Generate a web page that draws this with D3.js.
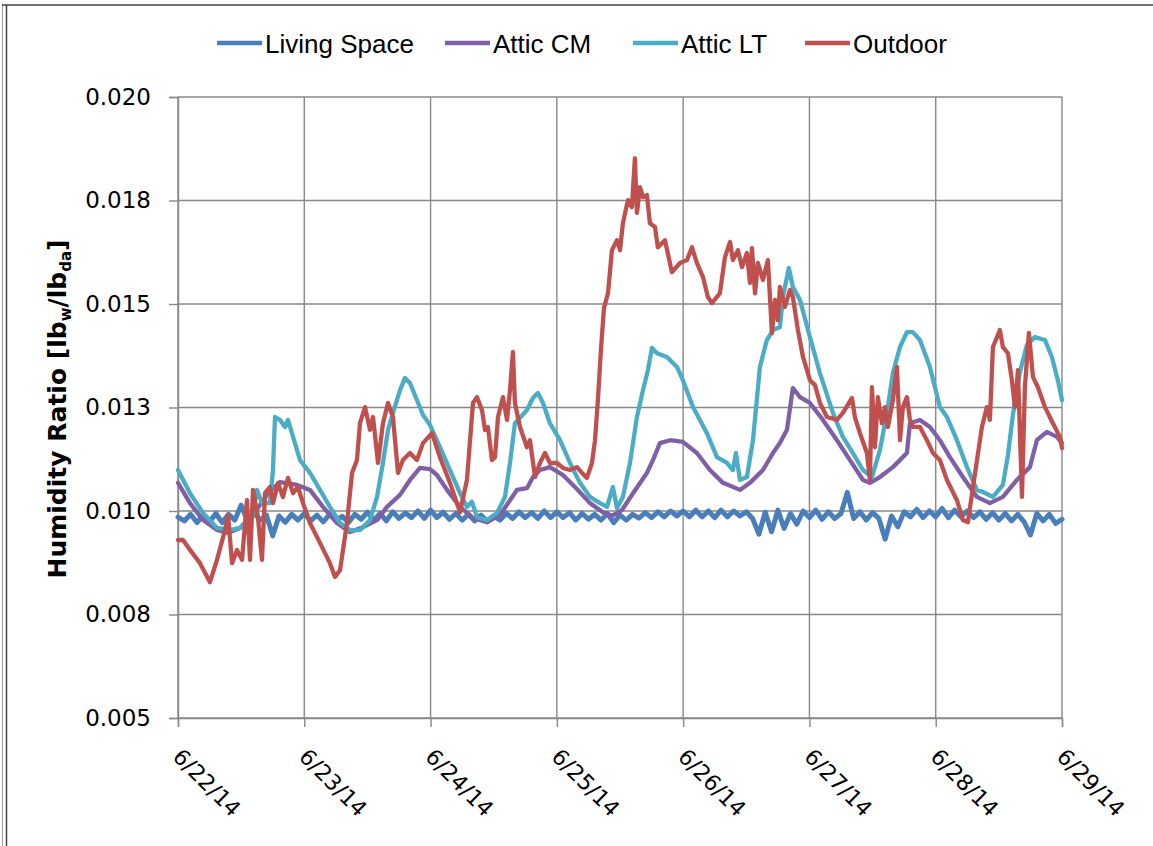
<!DOCTYPE html>
<html><head><meta charset="utf-8">
<script src="https://cdn.jsdelivr.net/npm/d3@7"></script>
<style>body{margin:0;background:#fff}svg{display:block}</style>
</head><body>
<svg id="chart" width="1153" height="846"></svg>
<script>
// ---------- DATA ----------
const seriesNames = ["Living Space", "Attic CM", "Attic LT", "Outdoor"];
const dateLabels = ["6/22/14","6/23/14","6/24/14","6/25/14","6/26/14","6/27/14","6/28/14","6/29/14"];
const yTickValues = [0.005, 0.0075, 0.010, 0.0125, 0.015, 0.0175, 0.020];
const yTickLabels = ["0.005","0.008","0.010","0.013","0.015","0.018","0.020"];

// Living Space: sampled every 0.05 day starting 6/22
const livingStepDays = 0.05;
const livingValues = [
0.00985,0.00976,0.00992,0.00972,0.00990,0.00974,0.00994,0.00972,0.00992,0.00978,
0.01014,0.00976,0.00997,0.00978,0.00990,0.00940,0.00988,0.00973,0.00992,0.00978,
0.00994,0.00976,0.00990,0.00974,0.00992,0.00978,0.00987,0.00972,0.00992,0.00980,
0.00997,0.00978,0.00994,0.00976,0.00998,0.00982,0.00995,0.00984,0.01000,0.00982,
0.01002,0.00984,0.00997,0.00980,0.00994,0.00978,0.00992,0.00976,0.00990,0.00974,
0.00988,0.00978,0.00994,0.00982,0.00998,0.00984,0.00996,0.00982,0.01000,0.00984,
0.00998,0.00984,0.00996,0.00978,0.00994,0.00980,0.00992,0.00978,0.00994,0.00972,
0.00990,0.00978,0.00992,0.00983,0.00996,0.00984,0.00998,0.00986,0.01000,0.00988,
0.01000,0.00986,0.01002,0.00986,0.01000,0.00984,0.01002,0.00986,0.01000,0.00988,
0.00998,0.00982,0.00944,0.00997,0.00950,0.01002,0.00958,0.00994,0.00968,0.01000,
0.00984,0.01002,0.00980,0.00998,0.00982,0.00994,0.01045,0.00982,0.00998,0.00978,
0.00996,0.00982,0.00932,0.00988,0.00962,0.00998,0.00986,0.01004,0.00984,0.01000,
0.00986,0.01006,0.00984,0.01002,0.00986,0.01000,0.00984,0.00998,0.00980,0.00996,
0.00978,0.00994,0.00976,0.00992,0.00974,0.00942,0.00994,0.00976,0.00992,0.00970,
0.00980
];

// [day offset from 6/22/14, humidity ratio]
const atticCM = [
[0,0.01068],[0.095,0.01019],[0.198,0.00978],[0.309,0.00954],[0.396,0.00947],[0.491,0.00959],
[0.610,0.00997],[0.713,0.01043],[0.808,0.01070],[0.942,0.01063],[1.045,0.01051],[1.148,0.01010],
[1.259,0.00971],[1.362,0.00949],[1.465,0.00961],[1.576,0.00978],[1.655,0.01010],[1.758,0.01039],
[1.837,0.01075],[1.916,0.01104],[1.995,0.01101],[2.051,0.01087],[2.130,0.01051],[2.233,0.01010],
[2.336,0.00983],[2.447,0.00973],[2.549,0.00990],[2.629,0.01026],[2.684,0.01051],[2.763,0.01055],
[2.811,0.01082],[2.866,0.01099],[2.945,0.01106],[3.048,0.01087],[3.159,0.01053],[3.262,0.01019],
[3.365,0.00997],[3.436,0.00988],[3.515,0.01002],[3.603,0.01043],[3.713,0.01092],[3.761,0.01123],
[3.816,0.01164],[3.896,0.01171],[3.998,0.01167],[4.109,0.01140],[4.212,0.01099],[4.315,0.01068],
[4.450,0.01051],[4.529,0.01068],[4.632,0.01099],[4.711,0.01140],[4.766,0.01164],[4.822,0.01196],
[4.869,0.01297],[4.925,0.01275],[5.004,0.01261],[5.107,0.01220],[5.218,0.01171],[5.321,0.01123],
[5.424,0.01075],[5.479,0.01068],[5.558,0.01082],[5.661,0.01106],[5.772,0.01140],[5.796,0.01212],
[5.875,0.01220],[5.954,0.01203],[6.033,0.01171],[6.112,0.01130],[6.215,0.01082],[6.326,0.01034],
[6.429,0.01019],[6.532,0.01034],[6.643,0.01075],[6.746,0.01106],[6.801,0.01171],[6.880,0.01191],
[6.960,0.01179],[7.000,0.01164]
];

const atticLT = [
[0,0.01099],[0.095,0.01043],[0.198,0.00995],[0.309,0.00959],[0.412,0.00954],[0.491,0.00959],
[0.586,0.00983],[0.625,0.01051],[0.665,0.01019],[0.728,0.01019],[0.752,0.01099],[0.768,0.01227],
[0.808,0.01220],[0.847,0.01203],[0.871,0.01220],[0.911,0.01179],[0.966,0.01123],[1.045,0.01092],
[1.124,0.01051],[1.203,0.01010],[1.283,0.00971],[1.362,0.00954],[1.441,0.00954],[1.520,0.00978],
[1.576,0.01034],[1.623,0.01116],[1.663,0.01196],[1.702,0.01237],[1.758,0.01292],[1.797,0.01321],
[1.837,0.01309],[1.892,0.01268],[1.940,0.01232],[1.995,0.01208],[2.074,0.01154],[2.154,0.01099],
[2.233,0.01043],[2.288,0.01010],[2.328,0.01022],[2.367,0.00985],[2.447,0.00978],[2.526,0.00995],
[2.589,0.01034],[2.629,0.01116],[2.668,0.01212],[2.708,0.01225],[2.763,0.01244],[2.811,0.01273],
[2.850,0.01285],[2.890,0.01261],[2.945,0.01212],[3.025,0.01171],[3.104,0.01116],[3.183,0.01068],
[3.262,0.01034],[3.341,0.01019],[3.397,0.01010],[3.444,0.01058],[3.476,0.01007],[3.523,0.01034],
[3.579,0.01116],[3.634,0.01227],[3.682,0.01292],[3.721,0.01340],[3.753,0.01394],[3.793,0.01381],
[3.872,0.01372],[3.951,0.01348],[3.998,0.01316],[4.078,0.01251],[4.188,0.01188],[4.268,0.01130],
[4.347,0.01116],[4.394,0.01099],[4.418,0.01140],[4.450,0.01075],[4.505,0.01082],[4.553,0.01171],
[4.608,0.01348],[4.663,0.01413],[4.711,0.01437],[4.766,0.01444],[4.790,0.01517],[4.837,0.01587],
[4.869,0.01541],[4.925,0.01510],[5.004,0.01420],[5.083,0.01333],[5.186,0.01237],[5.265,0.01179],
[5.344,0.01140],[5.424,0.01099],[5.495,0.01082],[5.558,0.01147],[5.614,0.01237],[5.661,0.01333],
[5.717,0.01396],[5.772,0.01432],[5.819,0.01432],[5.875,0.01413],[5.954,0.01348],[6.033,0.01251],
[6.089,0.01227],[6.168,0.01171],[6.247,0.01106],[6.326,0.01051],[6.374,0.01046],[6.453,0.01034],
[6.532,0.01063],[6.572,0.01135],[6.611,0.01232],[6.667,0.01336],[6.722,0.01401],[6.785,0.01420],
[6.865,0.01413],[6.920,0.01372],[6.967,0.01316],[7.000,0.01268]
];

const outdoor = [
[0,0.00930],[0.040,0.00930],[0.095,0.00906],[0.174,0.00874],[0.253,0.00828],[0.309,0.00882],
[0.372,0.00954],[0.396,0.00990],[0.428,0.00874],[0.467,0.00906],[0.507,0.00882],[0.546,0.01026],
[0.570,0.00882],[0.594,0.01051],[0.633,0.00985],[0.665,0.00882],[0.689,0.01043],[0.728,0.01058],
[0.752,0.01019],[0.792,0.01068],[0.831,0.01034],[0.871,0.01080],[0.911,0.01043],[0.950,0.01058],
[0.990,0.01019],[1.045,0.00971],[1.124,0.00923],[1.203,0.00874],[1.243,0.00841],[1.283,0.00857],
[1.338,0.00971],[1.378,0.01092],[1.417,0.01123],[1.441,0.01212],[1.481,0.01251],[1.520,0.01196],
[1.544,0.01227],[1.584,0.01116],[1.623,0.01212],[1.663,0.01261],[1.702,0.01227],[1.742,0.01092],
[1.781,0.01123],[1.837,0.01140],[1.892,0.01123],[1.940,0.01164],[2.011,0.01188],[2.074,0.01130],
[2.154,0.01068],[2.233,0.00997],[2.288,0.01075],[2.336,0.01261],[2.367,0.01275],[2.407,0.01244],
[2.431,0.01196],[2.454,0.01203],[2.486,0.01123],[2.510,0.01130],[2.534,0.01227],[2.573,0.01275],
[2.605,0.01220],[2.629,0.01292],[2.652,0.01384],[2.668,0.01261],[2.708,0.01203],[2.763,0.01154],
[2.787,0.01171],[2.827,0.01082],[2.866,0.01116],[2.906,0.01140],[2.945,0.01116],[3.001,0.01116],
[3.048,0.01104],[3.104,0.01099],[3.159,0.01106],[3.199,0.01092],[3.238,0.01080],[3.278,0.01116],
[3.302,0.01171],[3.325,0.01268],[3.349,0.01389],[3.373,0.01490],[3.405,0.01526],[3.436,0.01630],
[3.476,0.01654],[3.500,0.01630],[3.523,0.01695],[3.563,0.01751],[3.594,0.01734],[3.618,0.01852],
[3.634,0.01720],[3.658,0.01782],[3.682,0.01758],[3.713,0.01763],[3.737,0.01695],[3.777,0.01686],
[3.800,0.01637],[3.856,0.01654],[3.911,0.01577],[3.975,0.01599],[4.030,0.01606],[4.070,0.01637],
[4.109,0.01599],[4.157,0.01565],[4.196,0.01517],[4.228,0.01502],[4.291,0.01526],[4.331,0.01613],
[4.371,0.01650],[4.394,0.01606],[4.434,0.01630],[4.466,0.01589],[4.505,0.01623],[4.529,0.01551],
[4.545,0.01635],[4.569,0.01526],[4.592,0.01599],[4.632,0.01558],[4.671,0.01606],[4.703,0.01430],
[4.727,0.01510],[4.750,0.01461],[4.766,0.01541],[4.806,0.01493],[4.846,0.01534],[4.869,0.01517],
[4.909,0.01437],[4.949,0.01372],[5.004,0.01316],[5.044,0.01304],[5.083,0.01261],[5.139,0.01227],
[5.218,0.01220],[5.265,0.01237],[5.337,0.01273],[5.360,0.01227],[5.400,0.01188],[5.455,0.01140],
[5.479,0.01075],[5.495,0.01299],[5.519,0.01154],[5.542,0.01275],[5.574,0.01212],[5.598,0.01251],
[5.622,0.01203],[5.661,0.01268],[5.693,0.01348],[5.717,0.01171],[5.740,0.01251],[5.772,0.01275],
[5.796,0.01220],[5.819,0.01203],[5.875,0.01203],[5.930,0.01171],[5.978,0.01140],[6.033,0.01123],
[6.089,0.01075],[6.168,0.01026],[6.215,0.00978],[6.255,0.00973],[6.295,0.01058],[6.366,0.01203],
[6.405,0.01251],[6.429,0.01220],[6.453,0.01396],[6.508,0.01437],[6.532,0.01396],[6.572,0.01381],
[6.603,0.01316],[6.627,0.01251],[6.651,0.01340],[6.683,0.01034],[6.706,0.01299],[6.738,0.01430],
[6.770,0.01324],[6.809,0.01299],[6.865,0.01251],[6.928,0.01212],[6.983,0.01179],[7.000,0.01152]
];

const seriesColors = ["#4A7EBB", "#7F60A6", "#4BACC6", "#C0504D"];

// ---------- LAYOUT ----------
const plot = {left: 178, right: 1062, top: 97, bottom: 718};
const svg = d3.select("#chart");
const x = d3.scaleLinear().domain([0, dateLabels.length - 1]).range([plot.left, plot.right]);
const y = d3.scaleLinear().domain([yTickValues[0], yTickValues[yTickValues.length - 1]]).range([plot.bottom, plot.top]);
const gridColor = "#888888";

// outer frame
svg.append("line").attr("x1", 2.5).attr("y1", 4).attr("x2", 2.5).attr("y2", 846).attr("stroke", "#9a9a9a").attr("stroke-width", 1);
svg.append("line").attr("x1", 6.5).attr("y1", 5).attr("x2", 6.5).attr("y2", 846).attr("stroke", "#444").attr("stroke-width", 1.5);
svg.append("line").attr("x1", 2).attr("y1", 5).attr("x2", 1153).attr("y2", 5).attr("stroke", "#444").attr("stroke-width", 1.5);

// gridlines
const grid = svg.append("g");
grid.selectAll("line.h").data(yTickValues).join("line")
  .attr("x1", plot.left).attr("x2", plot.right)
  .attr("y1", d => y(d)).attr("y2", d => y(d))
  .attr("stroke", gridColor).attr("stroke-width", 1.4);
grid.selectAll("line.v").data(d3.range(dateLabels.length)).join("line")
  .attr("x1", d => x(d)).attr("x2", d => x(d))
  .attr("y1", plot.top).attr("y2", plot.bottom)
  .attr("stroke", gridColor).attr("stroke-width", 1.4);

// y axis
const yAxis = d3.axisLeft(y).tickValues(yTickValues)
  .tickFormat((d, i) => yTickLabels[i]).tickSize(9).tickPadding(18);
const gy = svg.append("g").attr("transform", `translate(${plot.left},0)`).call(yAxis);
gy.select(".domain").attr("stroke", gridColor).attr("stroke-width", 1.4);
gy.selectAll(".tick line").attr("stroke", gridColor).attr("stroke-width", 1.4);
gy.selectAll(".tick text").attr("font-family", "DejaVu Sans, Verdana, sans-serif")
  .attr("font-size", 23).attr("fill", "#000");

// x axis
const xAxis = d3.axisBottom(x).tickValues(d3.range(dateLabels.length))
  .tickFormat(i => dateLabels[i]).tickSize(9);
const gx = svg.append("g").attr("transform", `translate(0,${plot.bottom})`).call(xAxis);
gx.select(".domain").attr("stroke", gridColor).attr("stroke-width", 1.4);
gx.selectAll(".tick line").attr("stroke", gridColor).attr("stroke-width", 1.4);
gx.selectAll(".tick text")
  .attr("font-family", "DejaVu Sans, Verdana, sans-serif").attr("font-size", 22).attr("fill", "#000")
  .attr("text-anchor", "start").attr("dy", null).attr("y", null)
  .attr("transform", "translate(-7,40) rotate(45)");

// y-axis title
const yTitle = svg.append("text")
  .attr("transform", "translate(66,409) rotate(-90)")
  .attr("text-anchor", "middle")
  .attr("font-family", "DejaVu Sans, Verdana, sans-serif")
  .attr("font-weight", "bold").attr("font-size", 25).attr("fill", "#000");
yTitle.append("tspan").text("Humidity Ratio [lb");
yTitle.append("tspan").attr("font-size", 15).attr("baseline-shift", "-30%").text("w");
yTitle.append("tspan").text("/lb");
yTitle.append("tspan").attr("font-size", 15).attr("baseline-shift", "-30%").text("da");
yTitle.append("tspan").text("]");

// lines
const line = d3.line().x(d => x(d[0])).y(d => y(d[1]));
const livingSpace = livingValues.map((v, i) => [i * livingStepDays, v]);
const allSeries = [livingSpace, atticCM, atticLT, outdoor];
const seriesWidths = [5, 4.3, 4.3, 4.3];
svg.append("g").selectAll("path").data(allSeries).join("path")
  .attr("d", line)
  .attr("fill", "none")
  .attr("stroke", (d, i) => seriesColors[i])
  .attr("stroke-width", (d, i) => seriesWidths[i])
  .attr("stroke-linejoin", "round")
  .attr("stroke-linecap", "round");

// legend
const legendX = [217, 445, 633, 805];
const legend = svg.append("g").selectAll("g").data(seriesNames).join("g")
  .attr("transform", (d, i) => `translate(${legendX[i]},0)`);
legend.append("line").attr("x1", 0).attr("x2", 45).attr("y1", 43).attr("y2", 43)
  .attr("stroke", (d, i) => seriesColors[i]).attr("stroke-width", 4.5);
legend.append("text").attr("x", 48).attr("y", 53).text(d => d)
  .attr("font-family", "Liberation Sans, Arial, sans-serif").attr("font-size", 26).attr("fill", "#000");
</script>
</body></html>
